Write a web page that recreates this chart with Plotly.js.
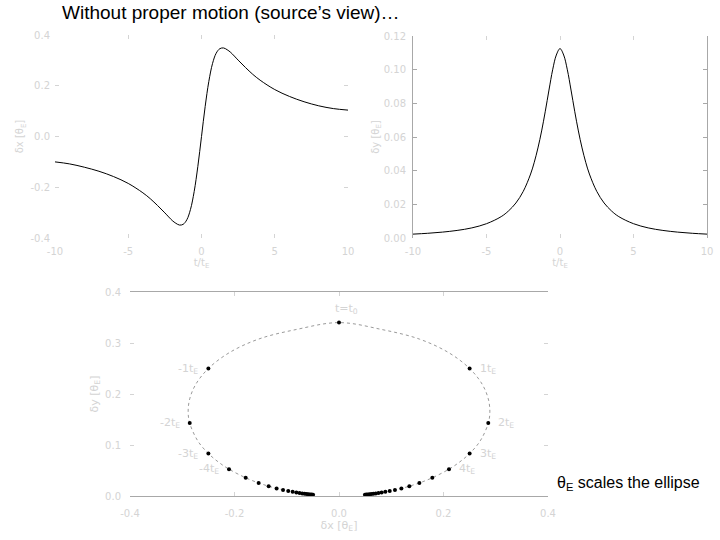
<!DOCTYPE html>
<html><head><meta charset="utf-8">
<script src="https://cdn.plot.ly/plotly-3.0.1.min.js"></script>
<style>html,body{margin:0;padding:0;background:#fff}#chart{width:720px;height:540px}</style>
</head><body><div id="chart"></div>
<script>
// Top panels: time axis (t/tE) and centroid shift components
const tauTop = [-10,-9,-8,-7,-6,-5,-4,-3.5,-3,-2.5,-2,-1.75,-1.5,-1.25,-1,-0.75,-0.5,-0.25,0,0.25,0.5,0.75,1,1.25,1.5,1.75,2,2.5,3,3.5,4,5,6,7,8,9,10];
const dxTop = [-0.100,-0.108,-0.121,-0.137,-0.158,-0.185,-0.222,-0.245,-0.272,-0.301,-0.331,-0.342,-0.349,-0.346,-0.328,-0.287,-0.217,-0.118,0,0.118,0.217,0.287,0.328,0.346,0.349,0.342,0.331,0.301,0.272,0.245,0.222,0.185,0.158,0.137,0.121,0.110,0.104];
const dyTop = [0.0023,0.0028,0.0035,0.0045,0.0060,0.0085,0.0127,0.0161,0.0208,0.0277,0.0380,0.0450,0.0535,0.0636,0.0753,0.0879,0.0999,0.1087,0.1125,0.1087,0.0999,0.0879,0.0753,0.0636,0.0535,0.0450,0.0380,0.0277,0.0208,0.0161,0.0127,0.0085,0.0060,0.0045,0.0035,0.0028,0.0023];

// Bottom panel: astrometric ellipse (trajectory samples, integer t/tE get a dot)
const tauEll = [-20,-19,-18,-17,-16,-15,-14,-13,-12,-11,-10,-9,-8,-7,-6,-5,-4,-3.5,-3,-2.5,-2,-1.75,-1.5,-1.25,-1,-0.75,-0.5,-0.25,0,0.25,0.5,0.75,1,1.25,1.5,1.75,2,2.5,3,3.5,4,5,6,7,8,9,10,11,12,13,14,15,16,17,18,19,20];
const dxEll = [-0.0496,-0.0522,-0.0550,-0.0582,-0.0618,-0.0658,-0.0704,-0.0756,-0.0816,-0.0887,-0.0971,-0.1071,-0.1194,-0.1346,-0.1538,-0.1786,-0.2105,-0.2295,-0.2500,-0.2703,-0.2857,-0.2887,-0.2857,-0.2740,-0.2500,-0.2105,-0.1538,-0.0816,0,0.0816,0.1538,0.2105,0.2500,0.2740,0.2857,0.2887,0.2857,0.2703,0.2500,0.2295,0.2105,0.1786,0.1538,0.1346,0.1194,0.1071,0.0971,0.0887,0.0816,0.0756,0.0704,0.0658,0.0618,0.0582,0.0550,0.0522,0.0496];
const dyEll = [0.0025,0.0027,0.0031,0.0034,0.0039,0.0044,0.0050,0.0058,0.0068,0.0081,0.0097,0.0119,0.0149,0.0192,0.0256,0.0357,0.0526,0.0656,0.0833,0.1081,0.1429,0.1649,0.1905,0.2192,0.2500,0.2807,0.3077,0.3265,0.3400,0.3265,0.3077,0.2807,0.2500,0.2192,0.1905,0.1649,0.1429,0.1081,0.0833,0.0656,0.0526,0.0357,0.0256,0.0192,0.0149,0.0119,0.0097,0.0081,0.0068,0.0058,0.0050,0.0044,0.0039,0.0034,0.0031,0.0027,0.0025];

const topTickVals = [-10,-5,0,5,10];
const topTickText = ['-10','-5','0','5','10'];
const dxTickVals = [-0.4,-0.2,0,0.2,0.4];
const dxTickText = ['-0.4','-0.2','0.0','0.2','0.4'];
const dyTickVals = [0,0.02,0.04,0.06,0.08,0.10,0.12];
const dyTickText = ['0.00','0.02','0.04','0.06','0.08','0.10','0.12'];
const ellXTickVals = [-0.4,-0.2,0,0.2,0.4];
const ellXTickText = ['-0.4','-0.2','0.0','0.2','0.4'];
const ellYTickVals = [0,0.1,0.2,0.3,0.4];
const ellYTickText = ['0.0','0.1','0.2','0.3','0.4'];

const labelTau = [-4,-3,-2,-1,0,1,2,3,4];
const labelText = ['-4t<sub>E</sub>','-3t<sub>E</sub>','-2t<sub>E</sub>','-1t<sub>E</sub>','t=t<sub>0</sub>','1t<sub>E</sub>','2t<sub>E</sub>','3t<sub>E</sub>','4t<sub>E</sub>'];

const faint = '#d4d4d4';
const axcol = '#a8a8a8';
const tickFont = {family:'DejaVu Sans, sans-serif', size:10, color:faint};

const ptsX = [], ptsY = [];
tauEll.forEach((t,i)=>{ if (Number.isInteger(t)) { ptsX.push(dxEll[i]); ptsY.push(dyEll[i]); } });

const traces = [
  {x:tauTop, y:dxTop, xaxis:'x', yaxis:'y', mode:'lines', line:{color:'#000', width:1, shape:'spline'}, hoverinfo:'skip'},
  {x:tauTop, y:dyTop, xaxis:'x2', yaxis:'y2', mode:'lines', line:{color:'#000', width:1, shape:'spline'}, hoverinfo:'skip'},
  {x:dxEll, y:dyEll, xaxis:'x3', yaxis:'y3', mode:'lines', line:{color:'#9a9a9a', width:1, dash:'dot', shape:'spline'}, hoverinfo:'skip'},
  {x:ptsX, y:ptsY, xaxis:'x3', yaxis:'y3', mode:'markers', marker:{color:'#000', size:4}, cliponaxis:false, hoverinfo:'skip'}
];

function ax(extra){ return Object.assign({showgrid:false, zeroline:false, tickfont:tickFont, ticks:'inside', ticklen:4, tickcolor:faint, showline:false, fixedrange:true}, extra); }

const annotations = [
  {text:'Without proper motion (source’s view)…', xref:'paper', yref:'paper', x:60/720, y:1.0, xanchor:'left', yanchor:'top', showarrow:false,
   font:{family:'Liberation Sans, sans-serif', size:19, color:'#000'}},
  {text:'θ<sub>E</sub> scales the ellipse', xref:'paper', yref:'paper', x:555/720, y:(540-483)/540, xanchor:'left', yanchor:'middle', showarrow:false,
   font:{family:'Liberation Sans, sans-serif', size:16, color:'#000'}}
];
labelTau.forEach((t,k)=>{
  const i = tauEll.indexOf(t);
  let xa = t<0 ? 'right' : 'left', xs = t<0 ? -8 : 8, ys = 0;
  if (t===0) { xa='left'; xs=-6; ys=14; }
  annotations.push({text:labelText[k], x:dxEll[i], y:dyEll[i], xref:'x3', yref:'y3', showarrow:false, xanchor:xa, yanchor:'middle', xshift:xs, yshift:ys,
    font:{family:'DejaVu Sans, sans-serif', size:11, color:faint}});
});

const layout = {
  width:720, height:540, margin:{l:0,r:0,t:0,b:0}, paper_bgcolor:'#fff', plot_bgcolor:'#fff', showlegend:false,
  annotations: annotations,
  xaxis: ax({domain:[55/720,348/720], range:[-10,10], anchor:'y', tickvals:topTickVals, ticktext:topTickText, mirror:'ticks', ticklabelstandoff:6,
    title:{text:'t/t<sub>E</sub>', font:{family:'DejaVu Sans, sans-serif', size:10, color:faint}, standoff:0}}),
  yaxis: ax({domain:[302/540,505/540], range:[-0.4,0.4], anchor:'x', tickvals:dxTickVals, ticktext:dxTickText, mirror:'ticks', ticklabelstandoff:4,
    title:{text:'δx [θ<sub>E</sub>]', font:{family:'DejaVu Sans, sans-serif', size:10, color:faint}, standoff:4}}),
  xaxis2: ax({domain:[413/720,707/720], range:[-10,10], anchor:'y2', tickvals:topTickVals, ticktext:topTickText, mirror:'ticks', ticklabelstandoff:6,
    title:{text:'t/t<sub>E</sub>', font:{family:'DejaVu Sans, sans-serif', size:10, color:faint}, standoff:0}}),
  yaxis2: ax({domain:[302/540,504/540], range:[0,0.12], anchor:'x2', tickvals:dyTickVals, ticktext:dyTickText, showline:true, linecolor:axcol, linewidth:1, mirror:'ticks', tickcolor:axcol, ticklabelstandoff:4,
    title:{text:'δy [θ<sub>E</sub>]', font:{family:'DejaVu Sans, sans-serif', size:10, color:faint}, standoff:2}}),
  xaxis3: ax({domain:[130/720,548/720], range:[-0.4,0.4], anchor:'y3', tickvals:ellXTickVals, ticktext:ellXTickText, showline:true, linecolor:axcol, linewidth:1, mirror:'ticks', ticklabelstandoff:8,
    title:{text:'δx [θ<sub>E</sub>]', font:{family:'DejaVu Sans, sans-serif', size:11, color:faint}, standoff:0}}),
  yaxis3: ax({domain:[44/540,248/540], range:[0,0.4], anchor:'x3', tickvals:ellYTickVals, ticktext:ellYTickText, mirror:'ticks', ticklabelstandoff:8,
    title:{text:'δy [θ<sub>E</sub>]', font:{family:'DejaVu Sans, sans-serif', size:11, color:faint}, standoff:4}})
};

Plotly.newPlot('chart', traces, layout, {staticPlot:true, displayModeBar:false});
</script></body></html>
